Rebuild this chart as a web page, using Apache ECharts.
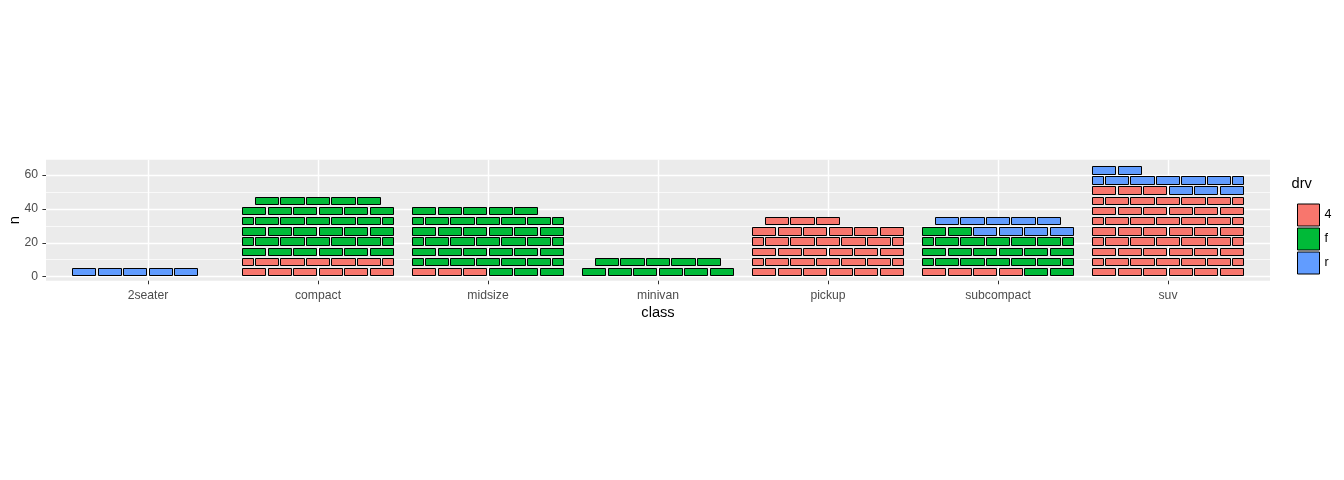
<!DOCTYPE html>
<html>
<head>
<meta charset="utf-8">
<script src="https://cdn.jsdelivr.net/npm/echarts@6/dist/echarts.min.js"></script>
<style>html,body{margin:0;padding:0;background:#fff}#c{width:1344px;height:480px}</style>
</head>
<body>
<div id="c"></div>
<script>
// ---- data (mpg: count of cars by class and drive train) ----
const classes = ['2seater', 'compact', 'midsize', 'minivan', 'pickup', 'subcompact', 'suv'];
const drvLevels = ['4', 'f', 'r'];
const count4 = [0, 12, 3, 0, 33, 4, 51];
const countF = [0, 35, 38, 11, 0, 22, 0];
const countR = [5, 0, 0, 0, 0, 9, 11];
const yTicks = [0, 20, 40, 60];
const yMinorTicks = [10, 30, 50];
const drvColors = ['#F8766D', '#00BA38', '#619CFF'];
const bricksPerLayer = 6;

// ---- brick layout (computed from the counts) ----
const FONT = '"Liberation Sans", Arial, sans-serif';
const barWidth = 0.9;
const slot = barWidth / bricksPerLayer;
const counts = [count4, countF, countR];
const brickData = [[], [], []];
classes.forEach(function (cls, k) {
  const seq = [];
  counts.forEach(function (arr, d) { for (let i = 0; i < arr[k]; i++) seq.push(d); });
  const n = seq.length;
  const left = k - barWidth / 2;
  seq.forEach(function (d, idx) {
    const row = Math.floor(idx / bricksPerLayer);
    const pos = idx % bricksPerLayer;
    const m = Math.min(bricksPerLayer, n - row * bricksPerLayer);
    const y0 = row * bricksPerLayer + 0.5, y1 = row * bricksPerLayer + 4.9;
    const pieces = [];
    if (row % 2 === 0) {
      pieces.push([pos, pos + 1]);
    } else {
      if (m === bricksPerLayer && pos === bricksPerLayer - 1) {
        pieces.push([pos + 0.5, pos + 1]);
        pieces.push([0, 0.5]);
      } else {
        pieces.push([pos + 0.5, pos + 1.5]);
      }
    }
    pieces.forEach(function (p) {
      brickData[d].push([left + p[0] * slot, left + p[1] * slot, y0, y1]);
    });
  });
});

const chart = echarts.init(document.getElementById('c'), null, {renderer: 'canvas'});

function crisp(v) { return Math.round(v - 0.5) + 0.5; }

function renderBrick(params, api) {
  const p0 = api.coord([api.value(0), api.value(2)]);
  const p1 = api.coord([api.value(1), api.value(3)]);
  const gx = 1.15;
  const xa = crisp(p0[0] + gx), xb = crisp(p1[0] - gx);
  const ya = crisp(p1[1]), yb = crisp(p0[1]);
  return {
    type: 'rect',
    shape: {x: xa, y: ya, width: xb - xa, height: yb - ya},
    style: {fill: api.visual('color'), stroke: '#000', lineWidth: 1}
  };
}

const series = drvLevels.map(function (lv, d) {
  return {
    type: 'custom',
    name: lv,
    renderItem: renderBrick,
    data: brickData[d],
    encode: {x: [0, 1], y: [2, 3]},
    itemStyle: {color: drvColors[d], borderColor: '#000', borderWidth: 1},
    clip: false,
    silent: true
  };
});

const yMin = -2.36, yMax = 69.0;

chart.setOption({
  animation: false,
  textStyle: {fontFamily: FONT},
  grid: {left: 46, right: 74, top: 159.7, bottom: 199.3, show: true, backgroundColor: '#EBEBEB', borderWidth: 0, containLabel: false, outerBoundsMode: 'none'},
  xAxis: {
    type: 'value', min: -0.6, max: 6.6,
    axisLine: {show: false, onZero: false},
    axisTick: {show: true, customValues: classes.map(function (c, i) { return i; }), length: 3.6, lineStyle: {color: '#333333', width: 1}},
    axisLabel: {customValues: classes.map(function (c, i) { return i; }), formatter: function (v) { return classes[Math.round(v)]; }, color: '#4D4D4D', fontSize: 12.2, fontFamily: FONT, margin: 8.5},
    splitLine: {show: true, lineStyle: {color: '#FFFFFF', width: 1.4}},
    name: 'class', nameLocation: 'middle', nameGap: 25, nameMoveOverlap: false,
    nameTextStyle: {color: '#000', fontSize: 14.67, fontFamily: FONT}
  },
  yAxis: [{
    type: 'value', min: yMin, max: yMax,
    axisLine: {show: false, onZero: false},
    axisTick: {show: true, customValues: yTicks, length: 3.6, lineStyle: {color: '#333333', width: 1}},
    axisLabel: {customValues: yTicks, color: '#4D4D4D', fontSize: 12.2, fontFamily: FONT, margin: 8},
    splitLine: {show: true, lineStyle: {color: '#FFFFFF', width: 1.4}},
    name: 'n', nameLocation: 'middle', nameGap: 24, nameRotate: 90, nameMoveOverlap: false,
    nameTextStyle: {color: '#000', fontSize: 14.67, fontFamily: FONT}
  }, {
    type: 'value', min: yMin, max: yMax, position: 'left',
    axisLine: {show: false, onZero: false},
    axisTick: {show: false, customValues: yMinorTicks},
    axisLabel: {show: false, customValues: yMinorTicks},
    splitLine: {show: true, lineStyle: {color: '#FFFFFF', width: 0.7}}
  }],
  legend: {
    orient: 'vertical', left: 1292, top: 198.5,
    itemWidth: 22, itemHeight: 22, itemGap: 1, icon: 'rect',
    selectedMode: false,
    data: drvLevels.map(function (lv, d) {
      return {name: lv, itemStyle: {color: drvColors[d], borderColor: '#000', borderWidth: 1}};
    }),
    textStyle: {color: '#000', fontSize: 12.5, fontFamily: FONT}
  },
  graphic: [{
    type: 'text', left: 1291.5, top: 176,
    style: {text: 'drv', fill: '#000', font: '14.67px ' + FONT}
  }],
  series: series
});
</script>
</body>
</html>
